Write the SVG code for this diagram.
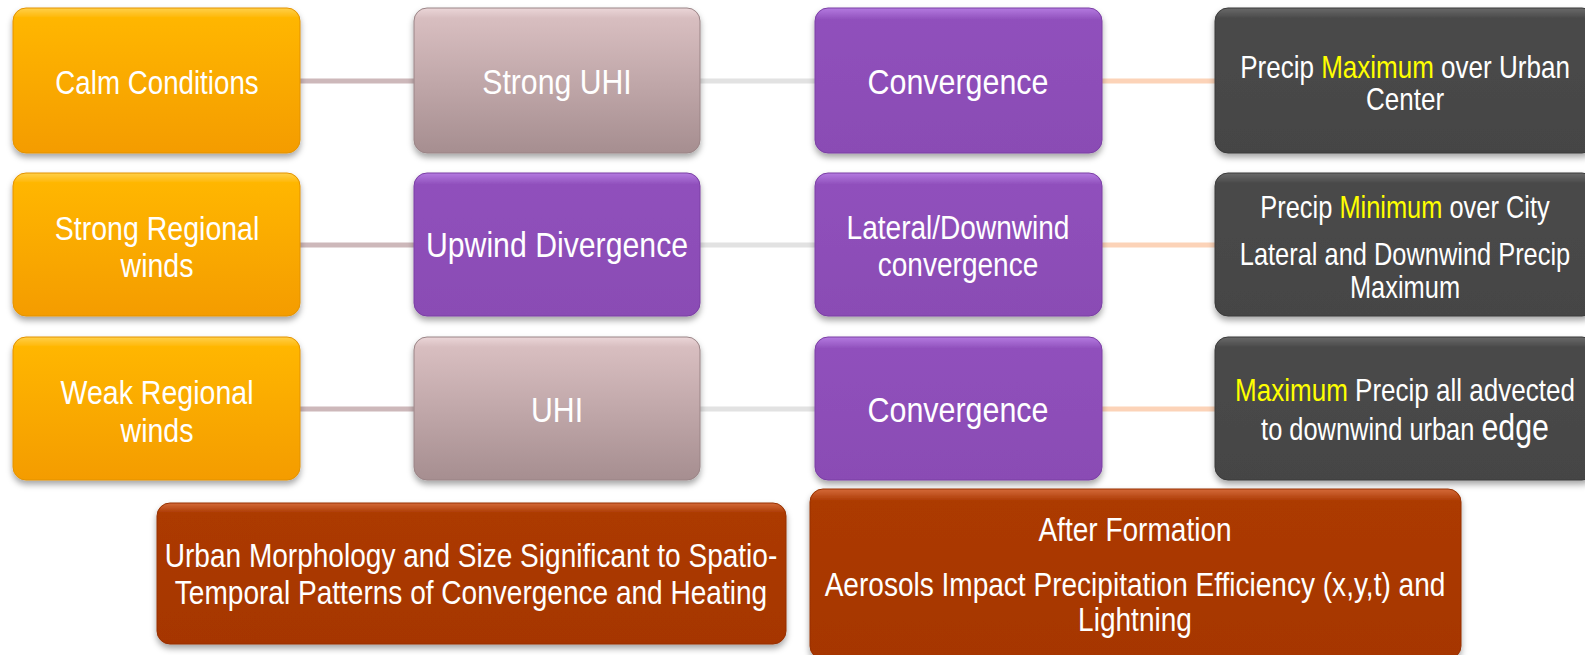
<svg xmlns="http://www.w3.org/2000/svg" width="1585" height="655" viewBox="0 0 1585 655">
<defs>
<filter id="sh" x="-10%" y="-10%" width="120%" height="130%">
<feDropShadow dx="0" dy="4" stdDeviation="3" flood-color="#000" flood-opacity="0.35"/>
</filter>
<linearGradient id="gOr" x1="0" y1="0" x2="0" y2="1">
<stop offset="0" stop-color="#FFD04A"/><stop offset="0.07" stop-color="#FFB600"/><stop offset="1" stop-color="#F49C00"/>
</linearGradient>
<linearGradient id="gPk" x1="0" y1="0" x2="0" y2="1">
<stop offset="0" stop-color="#EBD6D8"/><stop offset="0.07" stop-color="#D8BEC0"/><stop offset="1" stop-color="#A68E90"/>
</linearGradient>
<linearGradient id="gPu" x1="0" y1="0" x2="0" y2="1">
<stop offset="0" stop-color="#B47AE0"/><stop offset="0.08" stop-color="#9050BC"/><stop offset="1" stop-color="#8A4CB4"/>
</linearGradient>
<linearGradient id="gDk" x1="0" y1="0" x2="0" y2="1">
<stop offset="0" stop-color="#6A6A6A"/><stop offset="0.07" stop-color="#4A4A4A"/><stop offset="1" stop-color="#454545"/>
</linearGradient>
<linearGradient id="gBr" x1="0" y1="0" x2="0" y2="1">
<stop offset="0" stop-color="#D46A3A"/><stop offset="0.07" stop-color="#AC3A02"/><stop offset="1" stop-color="#A63600"/>
</linearGradient>
</defs>
<style>
.t{font-family:"Liberation Sans",Arial,sans-serif;fill:#fff;text-anchor:middle}
.y{fill:#FFFF00}
.or{fill:url(#gOr);stroke:#E39200;stroke-width:1}
.pk{fill:url(#gPk);stroke:#9A8486;stroke-width:1}
.pu{fill:url(#gPu);stroke:#7A3EA4;stroke-width:1}
.dk{fill:url(#gDk);stroke:#3A3A3A;stroke-width:1}
.br{fill:url(#gBr);stroke:#963000;stroke-width:1}
.c1{stroke:#CDB8BA;stroke-width:5}
.c2{stroke:#E2E2E2;stroke-width:5}
.c3{stroke:#FCD3B8;stroke-width:5}
</style>
<g id="connectors">
<line class="c1" x1="300" y1="81" x2="414" y2="81"/>
<line class="c2" x1="700" y1="81" x2="815" y2="81"/>
<line class="c3" x1="1102" y1="81" x2="1215" y2="81"/>
<line class="c1" x1="300" y1="245" x2="414" y2="245"/>
<line class="c2" x1="700" y1="245" x2="815" y2="245"/>
<line class="c3" x1="1102" y1="245" x2="1215" y2="245"/>
<line class="c1" x1="300" y1="409" x2="414" y2="409"/>
<line class="c2" x1="700" y1="409" x2="815" y2="409"/>
<line class="c3" x1="1102" y1="409" x2="1215" y2="409"/>
</g>
<g id="calm"><rect class="or" filter="url(#sh)" x="13" y="8" width="287" height="145" rx="13"/>
<text class="t" font-size="33" transform="translate(157 94) scale(0.84 1)">Calm Conditions</text></g>
<g id="strong-uhi"><rect class="pk" filter="url(#sh)" x="414" y="8" width="286" height="145" rx="13"/>
<text class="t" font-size="36" transform="translate(557 94) scale(0.84 1)">Strong UHI</text></g>
<g id="conv1"><rect class="pu" filter="url(#sh)" x="815" y="8" width="287" height="145" rx="13"/>
<text class="t" font-size="36" transform="translate(958 94) scale(0.845 1)">Convergence</text></g>
<g id="precip-max"><rect class="dk" filter="url(#sh)" x="1215" y="8" width="380" height="145" rx="13"/>
<text class="t" font-size="31" transform="translate(1405 78) scale(0.84 1)">Precip <tspan class="y">Maximum</tspan> over Urban</text>
<text class="t" font-size="31" transform="translate(1405 110) scale(0.84 1)">Center</text></g>

<g id="strong-winds"><rect class="or" filter="url(#sh)" x="13" y="173" width="287" height="143" rx="13"/>
<text class="t" font-size="34" transform="translate(157 240) scale(0.84 1)">Strong Regional</text>
<text class="t" font-size="34" transform="translate(157 277) scale(0.84 1)">winds</text></g>
<g id="upwind"><rect class="pu" filter="url(#sh)" x="414" y="173" width="286" height="143" rx="13"/>
<text class="t" font-size="36" transform="translate(557 257) scale(0.84 1)">Upwind Divergence</text></g>
<g id="lateral"><rect class="pu" filter="url(#sh)" x="815" y="173" width="287" height="143" rx="13"/>
<text class="t" font-size="33" transform="translate(958 239) scale(0.85 1)">Lateral/Downwind</text>
<text class="t" font-size="33" transform="translate(958 276) scale(0.85 1)">convergence</text></g>
<g id="precip-min"><rect class="dk" filter="url(#sh)" x="1215" y="173" width="380" height="143" rx="13"/>
<text class="t" font-size="31" transform="translate(1405 218) scale(0.82 1)">Precip <tspan class="y">Minimum</tspan> over City</text>
<text class="t" font-size="31" transform="translate(1405 265) scale(0.82 1)">Lateral and Downwind Precip</text>
<text class="t" font-size="31" transform="translate(1405 298) scale(0.82 1)">Maximum</text></g>

<g id="weak-winds"><rect class="or" filter="url(#sh)" x="13" y="337" width="287" height="143" rx="13"/>
<text class="t" font-size="34" transform="translate(157 404) scale(0.84 1)">Weak Regional</text>
<text class="t" font-size="34" transform="translate(157 442) scale(0.84 1)">winds</text></g>
<g id="uhi"><rect class="pk" filter="url(#sh)" x="414" y="337" width="286" height="143" rx="13"/>
<text class="t" font-size="36" transform="translate(557 422) scale(0.84 1)">UHI</text></g>
<g id="conv3"><rect class="pu" filter="url(#sh)" x="815" y="337" width="287" height="143" rx="13"/>
<text class="t" font-size="36" transform="translate(958 422) scale(0.845 1)">Convergence</text></g>
<g id="precip-adv"><rect class="dk" filter="url(#sh)" x="1215" y="337" width="380" height="143" rx="13"/>
<text class="t" font-size="31" transform="translate(1405 401) scale(0.84 1)"><tspan class="y">Maximum</tspan> Precip all advected</text>
<text class="t" font-size="31" transform="translate(1405 440) scale(0.82 1)">to downwind urban <tspan font-size="37">edge</tspan></text></g>

<g id="morphology"><rect class="br" filter="url(#sh)" x="157" y="503" width="629" height="141" rx="13"/>
<text class="t" font-size="34" transform="translate(471 567) scale(0.825 1)">Urban Morphology and Size Significant to Spatio-</text>
<text class="t" font-size="34" transform="translate(471 604) scale(0.825 1)">Temporal Patterns of Convergence and Heating</text></g>
<g id="aerosols"><rect class="br" filter="url(#sh)" x="810" y="489" width="651" height="170" rx="13"/>
<text class="t" font-size="33" transform="translate(1135 541) scale(0.85 1)">After Formation</text>
<text class="t" font-size="33" transform="translate(1135 596) scale(0.85 1)">Aerosols Impact Precipitation Efficiency (x,y,t) and</text>
<text class="t" font-size="33" transform="translate(1135 631) scale(0.85 1)">Lightning</text></g>
</svg>
